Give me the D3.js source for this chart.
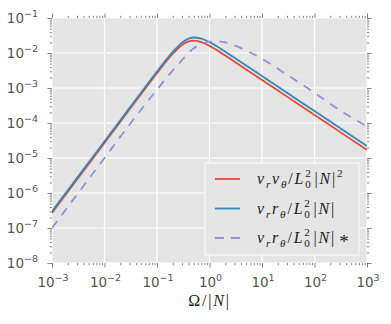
<!DOCTYPE html>
<html>
<head>
<meta charset="utf-8">
<script src="https://cdn.jsdelivr.net/npm/d3@7"></script>
<style>
  body { margin: 0; background: #fff; }
  svg { display: block; }
</style>
</head>
<body>
<svg id="chart" width="391" height="324"></svg>
<script>
// values
const omega  = [0.001, 0.003, 0.01, 0.03, 0.1, 0.2, 0.3, 0.4, 0.5, 0.7, 1, 1.5, 2, 3, 5, 10, 30, 100, 300, 1000];
const vrvt   = [2.7e-7, 2.43e-6, 2.7e-5, 2.43e-4, 2.66e-3, 9.58e-3, 0.0170, 0.02143, 0.02262, 0.02053, 0.0160, 0.01113, 8.44e-3, 5.66e-3, 3.40e-3, 1.7e-3, 5.67e-4, 1.7e-4, 5.67e-5, 1.7e-5];
const vrrt   = [3.0e-7, 2.7e-6, 3.0e-5, 2.7e-4, 2.96e-3, 0.01082, 0.01974, 0.02563, 0.02773, 0.02588, 0.02049, 0.01435, 0.0109, 7.32e-3, 4.4e-3, 2.2e-3, 7.33e-4, 2.2e-4, 7.33e-5, 2.2e-5];
const vrrtS  = [1.0e-7, 9.0e-7, 1.0e-5, 9.0e-5, 9.0e-4, 3.2e-3, 6.3e-3, 0.0100, 0.0136, 0.0180, 0.0210, 0.0215, 0.0200, 0.0165, 0.0118, 6.8e-3, 2.4e-3, 7.3e-4, 2.35e-4, 8.0e-5];
const xTickExp = [-3, -2, -1, 0, 1, 2, 3];
const yTickExp = [-8, -7, -6, -5, -4, -3, -2, -1];

const series = [
  {vals: vrvt,  color: "#E24A33", dash: null},
  {vals: vrrt,  color: "#348ABD", dash: null},
  {vals: vrrtS, color: "#988ED5", dash: "8.5,7.5"}
];

const svg = d3.select("#chart");
const L = 52, R = 367, T = 18, B = 263;

const x = d3.scaleLog().domain([1e-3, 1e3]).range([L, R]);
const y = d3.scaleLog().domain([1e-8, 1e-1]).range([B, T]);

// background
svg.append("rect").attr("x", L).attr("y", T).attr("width", R - L).attr("height", B - T).attr("fill", "#e5e5e5");

const xMajor = xTickExp.map(e => Math.pow(10, e));
const yMajor = yTickExp.map(e => Math.pow(10, e));
const minorOf = (majors) => {
  const out = [];
  majors.slice(0, -1).forEach(m => { for (let k = 2; k <= 9; k++) out.push(m * k); });
  return out;
};
const xMinor = minorOf(xMajor), yMinor = minorOf(yMajor);

// grid
const grid = svg.append("g");
xMajor.forEach(v => grid.append("line").attr("x1", x(v)).attr("x2", x(v)).attr("y1", T).attr("y2", B)
  .attr("stroke", "#fff").attr("stroke-width", 1.2));
yMajor.forEach(v => grid.append("line").attr("y1", y(v)).attr("y2", y(v)).attr("x1", L).attr("x2", R)
  .attr("stroke", "#fff").attr("stroke-width", 1.2));

// ticks on all four sides, outward
function tickAxis(axisFn, scale, vals, size, tr) {
  const g = svg.append("g").attr("transform", tr)
    .call(axisFn(scale).tickValues(vals).tickSize(size).tickSizeOuter(0).tickFormat(""));
  g.select(".domain").remove();
  g.selectAll("line").attr("stroke", "#666").attr("stroke-width", 0.8);
}
tickAxis(d3.axisBottom, x, xMajor, 4.5, `translate(0,${B})`);
tickAxis(d3.axisBottom, x, xMinor, 2.2, `translate(0,${B})`);
tickAxis(d3.axisTop, x, xMajor, 4.5, `translate(0,${T})`);
tickAxis(d3.axisTop, x, xMinor, 2.2, `translate(0,${T})`);
tickAxis(d3.axisLeft, y, yMajor, 4.5, `translate(${L},0)`);
tickAxis(d3.axisLeft, y, yMinor, 2.2, `translate(${L},0)`);
tickAxis(d3.axisRight, y, yMajor, 4.5, `translate(${R},0)`);
tickAxis(d3.axisRight, y, yMinor, 2.2, `translate(${R},0)`);

// tick labels 10^n
function powLabel(px, py, e, anchor) {
  const t = svg.append("text").attr("x", px).attr("y", py).attr("text-anchor", anchor)
    .attr("font-family", "DejaVu Sans").attr("font-size", 13.5).attr("fill", "#555");
  t.append("tspan").text("10");
  t.append("tspan").attr("dy", -6).attr("font-size", 9.5).text(String(e).replace("-", "\u2212"));
}
xTickExp.forEach(e => powLabel(x(Math.pow(10, e)) + 1, 287, e, "middle"));
yTickExp.forEach(e => powLabel(38, y(Math.pow(10, e)) + 5, e, "end"));

// lines
const clip = svg.append("clipPath").attr("id", "clip").append("rect")
  .attr("x", L).attr("y", T).attr("width", R - L).attr("height", B - T);
const line = d3.line().x(d => x(d[0])).y(d => y(d[1])).curve(d3.curveMonotoneX);
series.forEach(s => {
  svg.append("path")
    .attr("clip-path", "url(#clip)")
    .attr("d", line(omega.map((o, i) => [o, s.vals[i]])))
    .attr("fill", "none").attr("stroke", s.color).attr("stroke-width", 1.8)
    .attr("stroke-dasharray", s.dash);
});

// math-style text built from pieces
function mathText(g, x0, y0, segs, size, anchor) {
  const grp = g.append("g");
  let cx = 0, lastStart = 0;
  segs.forEach(s => {
    const fs = s.fs || (s.pos ? size * 0.7 : size);
    const dy = (s.dy || 0) + (s.pos === "sub" ? size * 0.28 : s.pos === "sup" ? -size * 0.42 : 0);
    const sx = s.stack ? lastStart : cx;
    const t = grp.append("text").attr("x", sx).attr("y", dy)
      .attr("font-family", "Liberation Serif").attr("font-size", fs)
      .attr("font-style", s.i ? "italic" : "normal").attr("fill", "#222").text(s.t);
    const w = t.node().getComputedTextLength();
    lastStart = sx;
    cx = Math.max(cx, sx + w) + (s.gap != null ? s.gap : 1.8);
  });
  const shift = anchor === "middle" ? -cx / 2 : 0;
  grp.attr("transform", `translate(${x0 + shift},${y0})`);
}

const base = [
  {t: "v", i: 1}, {t: "r", i: 1, pos: "sub"}
];
const lab1 = base.concat([{t: "v", i: 1}, {t: "θ", i: 1, pos: "sub"}, {t: "/"}, {t: "L", i: 1},
  {t: "0", pos: "sub"}, {t: "2", pos: "sup", stack: 1}, {t: "|"}, {t: "N", i: 1}, {t: "|"}, {t: "2", pos: "sup"}]);
const lab2 = base.concat([{t: "r", i: 1}, {t: "θ", i: 1, pos: "sub"}, {t: "/"}, {t: "L", i: 1},
  {t: "0", pos: "sub"}, {t: "2", pos: "sup", stack: 1}, {t: "|"}, {t: "N", i: 1}, {t: "|", gap: 5}]);
const lab3 = lab2.concat([{t: "*", fs: 19, dy: 5}]);

// x axis label
mathText(svg, 209.5, 306, [{t: "Ω"}, {t: "/"}, {t: "|"}, {t: "N", i: 1}, {t: "|"}], 16, "middle");

// legend
const lg = svg.append("g");
lg.append("rect").attr("x", 205).attr("y", 163).attr("width", 154).attr("height", 92)
  .attr("fill", "#e5e5e5").attr("stroke", "#fbfbfb").attr("stroke-width", 1);
const rows = [179, 208.5, 238];
[lab1, lab2, lab3].forEach((lab, i) => {
  lg.append("line").attr("x1", 215).attr("x2", 240).attr("y1", rows[i]).attr("y2", rows[i])
    .attr("stroke", series[i].color).attr("stroke-width", 1.8).attr("stroke-dasharray", series[i].dash ? "9,7" : null);
  mathText(lg, 257, rows[i] + 5, lab, 16, "start");
});
</script>
</body>
</html>
